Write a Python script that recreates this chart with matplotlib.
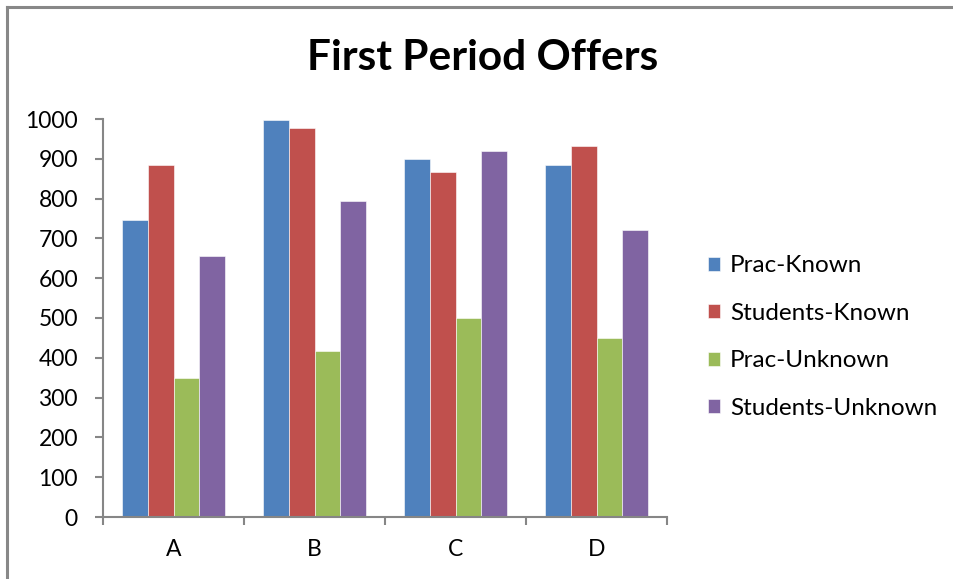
import numpy as np
import matplotlib
matplotlib.use("Agg")
import matplotlib.pyplot as plt
from matplotlib.lines import Line2D

plt.rcParams['font.family'] = ['Lato', 'DejaVu Sans']

# Offers per group
categories = ['A', 'B', 'C', 'D']
series_names = ['Prac-Known', 'Students-Known', 'Prac-Unknown', 'Students-Unknown']
prac_known = [745, 997, 900, 885]
students_known = [885, 977, 866, 932]
prac_unknown = [350, 417, 500, 450]
students_unknown = [655, 793, 920, 722]
colors = ['#4F81BD', '#C0504D', '#9BBB59', '#8064A2']

W, H = 954, 579
fig = plt.figure(figsize=(W / 100, H / 100), dpi=100)

# plot area in pixel terms
left, right, top, bottom = 103, 667, 119, 517
ax = fig.add_axes([left / W, (H - bottom) / H, (right - left) / W, (bottom - top) / H])

x = np.arange(len(categories))
bw = 0.184
all_series = [prac_known, students_known, prac_unknown, students_unknown]
for i, (vals, name, c) in enumerate(zip(all_series, series_names, colors)):
    ax.bar(x + (i - 1.5) * bw, vals, bw, color=c, label=name,
           edgecolor='white', linewidth=0.4)

ax.set_xlim(-0.5, len(categories) - 0.5)
ax.set_ylim(0, 1000)
ax.set_yticks(range(0, 1001, 100))
ax.set_xticks(x)
ax.set_xticklabels(categories)
ax.set_xticks(np.arange(-0.5, len(categories)), minor=True)

axis_gray = '#868686'
for s in ['top', 'right']:
    ax.spines[s].set_visible(False)
for s in ['left', 'bottom']:
    ax.spines[s].set_color(axis_gray)
    ax.spines[s].set_linewidth(1.5)

ax.tick_params(axis='y', length=6, width=1.5, color=axis_gray, labelsize=16.5, pad=12)
ax.tick_params(axis='x', which='major', length=0, labelsize=16.5, pad=16)
ax.tick_params(axis='x', which='minor', length=6, width=1.5, color=axis_gray)

fig.text(483 / W, 1 - 58 / H, 'First Period Offers', ha='center', va='center',
         fontsize=30.5, fontweight='bold')

leg = fig.legend(loc='center left', bbox_to_anchor=(686 / W, 1 - 337 / H),
                 frameon=False, fontsize=17.5, handlelength=0.5, handleheight=0.5,
                 handletextpad=0.4, labelspacing=1.09)

# chart border (top and left edges)
fig.add_artist(Line2D([7 / W, 1], [1 - 7 / H, 1 - 7 / H], color='#888888', lw=2.2))
fig.add_artist(Line2D([7 / W, 7 / W], [0, 1 - 7 / H], color='#888888', lw=2.2))

fig.savefig('out.png', dpi=100)
